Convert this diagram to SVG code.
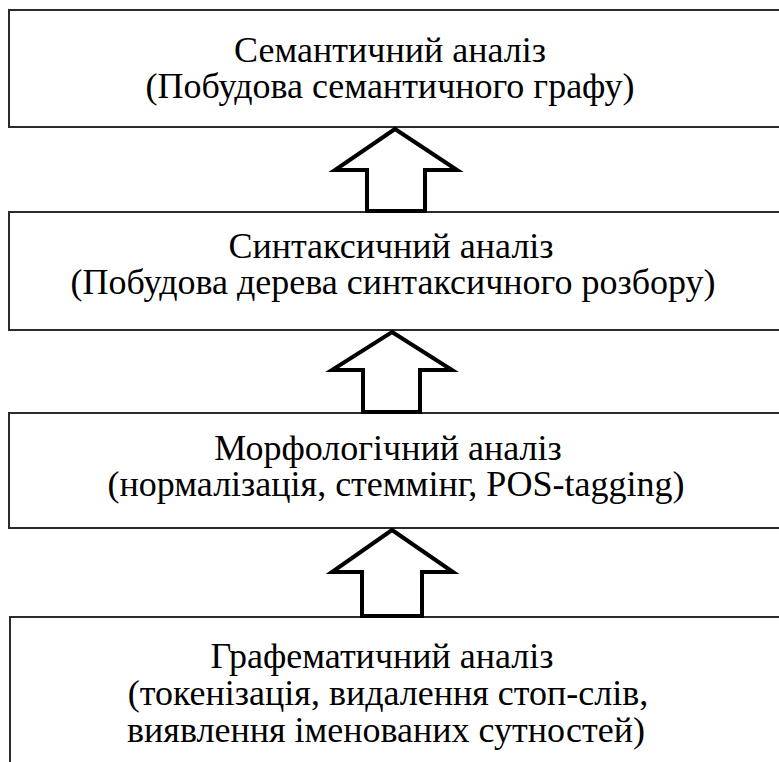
<svg xmlns="http://www.w3.org/2000/svg" width="779" height="762" viewBox="0 0 779 762">
  <rect width="779" height="762" fill="#ffffff"/>

  <!-- stage boxes, top to bottom -->
  <g id="semantic">
    <rect x="9" y="10" width="790" height="117" fill="#ffffff" stroke="#2b2b2b" stroke-width="2"/>
    <text x="390" y="62" font-family="'Liberation Serif'" font-size="36" text-anchor="middle">Семантичний аналіз</text>
    <text x="390" y="98" font-family="'Liberation Serif'" font-size="36" text-anchor="middle">(Побудова семантичного графу)</text>
  </g>

  <g id="syntactic">
    <rect x="9" y="212" width="790" height="118" fill="#ffffff" stroke="#2b2b2b" stroke-width="2"/>
    <text x="391" y="258" font-family="'Liberation Serif'" font-size="36" text-anchor="middle">Синтаксичний аналіз</text>
    <text x="393" y="294" font-family="'Liberation Serif'" font-size="36" text-anchor="middle">(Побудова дерева синтаксичного розбору)</text>
  </g>

  <g id="morphological">
    <rect x="9" y="413" width="790" height="115" fill="#ffffff" stroke="#2b2b2b" stroke-width="2"/>
    <text x="388" y="460" font-family="'Liberation Serif'" font-size="36" text-anchor="middle">Морфологічний аналіз</text>
    <text x="396" y="496" font-family="'Liberation Serif'" font-size="36" text-anchor="middle">(нормалізація, стеммінг, POS-tagging)</text>
  </g>

  <g id="graphematic">
    <rect x="10" y="617" width="790" height="160" fill="#ffffff" stroke="#2b2b2b" stroke-width="2"/>
    <text x="382" y="668" font-family="'Liberation Serif'" font-size="36" text-anchor="middle">Графематичний аналіз</text>
    <text x="388" y="705" font-family="'Liberation Serif'" font-size="36" text-anchor="middle">(токенізація, видалення стоп-слів,</text>
    <text x="386" y="742" font-family="'Liberation Serif'" font-size="36" text-anchor="middle">виявлення іменованих сутностей)</text>
  </g>

  <!-- hollow block arrows between stages -->
  <g id="connectors" fill="#ffffff" stroke="#000000" stroke-width="4" stroke-linejoin="miter">
    <polygon points="395,129 457,170 425,170 425,211 367,211 367,170 335,170"/>
    <polygon points="392,332 452,370 420,370 420,412 363,412 363,370 332,370"/>
    <polygon points="392,530 453,572 422,572 422,616 362,616 362,572 332,572"/>
  </g>
</svg>
